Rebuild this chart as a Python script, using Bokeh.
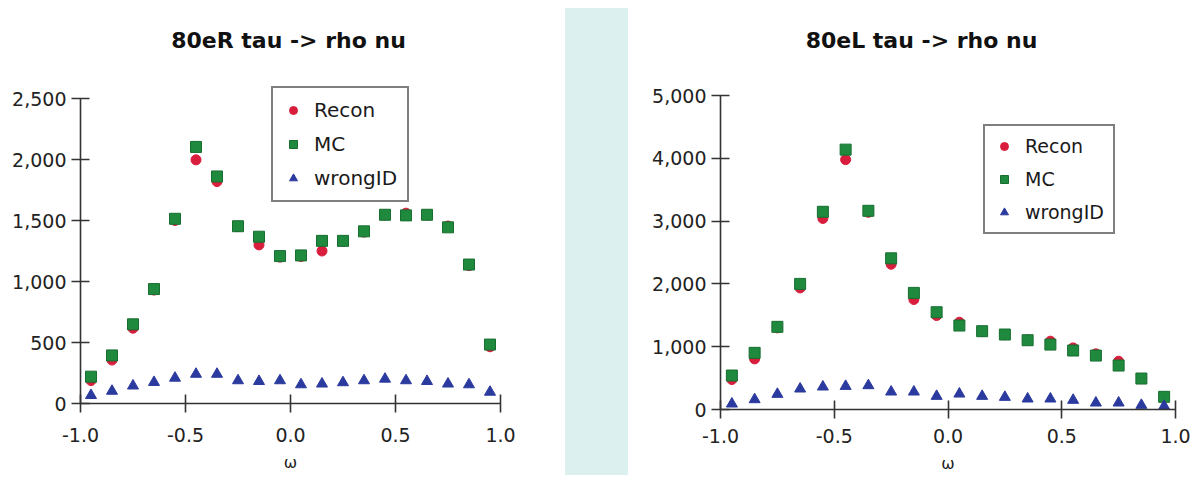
from bokeh.plotting import figure
from bokeh.models import Range1d, FixedTicker, NumeralTickFormatter, Div, Label
from bokeh.layouts import row, column
from bokeh.embed import file_html
from bokeh.resources import INLINE

# ---- data ----
omega = [-0.95, -0.85, -0.75, -0.65, -0.55, -0.45, -0.35, -0.25, -0.15, -0.05,
         0.05, 0.15, 0.25, 0.35, 0.45, 0.55, 0.65, 0.75, 0.85, 0.95]

r_recon = [188, 356, 617, 930, 1500, 1997, 1819, 1450, 1300, 1200,
           1205, 1250, 1330, 1405, 1545, 1560, 1545, 1455, 1130, 465]
r_mc = [220, 394, 649, 938, 1514, 2103, 1861, 1453, 1367, 1208,
        1214, 1333, 1333, 1411, 1547, 1542, 1547, 1444, 1139, 483]
r_wrong = [67, 102, 145, 174, 209, 241, 241, 188, 182, 188,
           155, 161, 172, 188, 201, 188, 182, 161, 155, 94]

l_recon = [477, 806, 1300, 1936, 3042, 3979, 3140, 2312, 1751, 1496,
           1390, 1240, 1190, 1110, 1088, 981, 886, 769, 490, 195]
l_mc = [541, 902, 1316, 2000, 3148, 4138, 3164, 2407, 1857, 1549,
        1337, 1247, 1194, 1103, 1034, 939, 859, 700, 493, 202]
l_wrong = [90, 159, 244, 329, 361, 371, 382, 281, 281, 212,
           249, 212, 196, 170, 170, 149, 106, 106, 69, 53]

x_ticks = [-1.0, -0.5, 0.0, 0.5, 1.0]
left_y_ticks = [0, 500, 1000, 1500, 2000, 2500]
right_y_ticks = [0, 1000, 2000, 3000, 4000, 5000]

RED = "#d81e3c"
GREEN = "#1f8a3e"
BLUE = "#2b3a9e"
FONT = "DejaVu Sans"
H = 477


def make_chart(title, recon, mc, wrong, ymax, axis_px, yticks, width, b_left, b_right,
               b_bottom, legend_loc, legend_pad, legend_spacing, legend_font,
               title_pos, lab_standoff, axlab_standoff):
    frame_h = H - b_bottom
    yview = ymax * frame_h / axis_px
    p = figure(width=width, height=H, output_backend="svg", toolbar_location=None,
               x_range=Range1d(-1, 1), y_range=Range1d(0, yview),
               min_border_left=b_left, min_border_right=b_right,
               min_border_top=0, min_border_bottom=b_bottom,
               background_fill_color="white", border_fill_color="white")
    p.outline_line_color = None
    p.grid.visible = False

    p.scatter(omega, recon, marker="circle", size=10, color=RED, legend_label="Recon")
    p.scatter(omega, mc, marker="square", size=11, color=GREEN, line_color="#176e30",
              legend_label="MC")
    p.scatter(omega, wrong, marker="triangle", size=11, color=BLUE, legend_label="wrongID")

    p.add_layout(Label(x=title_pos[0], y=frame_h - title_pos[1], x_units="screen",
                       y_units="screen", text=title, text_align="center",
                       text_baseline="middle", text_font=FONT, text_font_style="bold",
                       text_font_size="22px", text_color="#111111"))

    for ax in (p.xaxis[0], p.yaxis[0]):
        ax.axis_line_color = "#333333"
        ax.axis_line_width = 1.6
        ax.major_tick_line_color = "#333333"
        ax.major_tick_line_width = 1.6
        ax.major_tick_in = 9
        ax.major_tick_out = 9
        ax.minor_tick_line_color = None
        ax.major_label_text_font = FONT
        ax.major_label_text_font_size = "19px"
        ax.major_label_text_color = "#222222"

    p.xaxis.ticker = FixedTicker(ticks=x_ticks)
    p.xaxis.formatter = NumeralTickFormatter(format="0.0")
    p.xaxis.major_label_standoff = lab_standoff
    p.xaxis.axis_label = "ω"
    p.xaxis.axis_label_text_font = FONT
    p.xaxis.axis_label_text_font_style = "normal"
    p.xaxis.axis_label_text_font_size = "16px"
    p.xaxis.axis_label_text_color = "#222222"
    p.xaxis.axis_label_standoff = axlab_standoff

    p.yaxis.ticker = FixedTicker(ticks=yticks)
    p.yaxis.formatter = NumeralTickFormatter(format="0,0")
    p.yaxis.major_label_standoff = 5
    p.yaxis.bounds = (0, ymax)

    lg = p.legend[0]
    lg.location = legend_loc
    lg.border_line_color = "black"
    lg.border_line_width = 2
    lg.background_fill_color = "white"
    lg.background_fill_alpha = 1.0
    lg.padding = legend_pad
    lg.spacing = legend_spacing
    lg.glyph_width = 20
    lg.glyph_height = 20
    lg.label_height = 20
    lg.label_standoff = 11
    lg.margin = 0
    lg.label_text_font = FONT
    lg.label_text_font_size = legend_font
    lg.label_text_color = "#1a1a1a"
    return p


p1 = make_chart("80eR tau -> rho nu", r_recon, r_mc, r_wrong, 2500, 305, left_y_ticks,
                width=565, b_left=80, b_right=65, b_bottom=74,
                legend_loc=(191, 201), legend_pad=10, legend_spacing=10, legend_font="20px",
                title_pos=(208, 40), lab_standoff=15, axlab_standoff=8)

band = Div(text="", width=63, height=467, margin=(8, 0, 0, 0),
           styles={"background-color": "#ddf0f0"})

p2 = make_chart("80eL tau -> rho nu", l_recon, l_mc, l_wrong, 5000, 314, right_y_ticks,
                width=568, b_left=92, b_right=21, b_bottom=68,
                legend_loc=(263, 175), legend_pad=9, legend_spacing=11, legend_font="19px",
                title_pos=(201, 40), lab_standoff=10, axlab_standoff=8)

layout = row(column(p1), band, column(p2))

open("out.html", "w").write(file_html(layout, INLINE))
